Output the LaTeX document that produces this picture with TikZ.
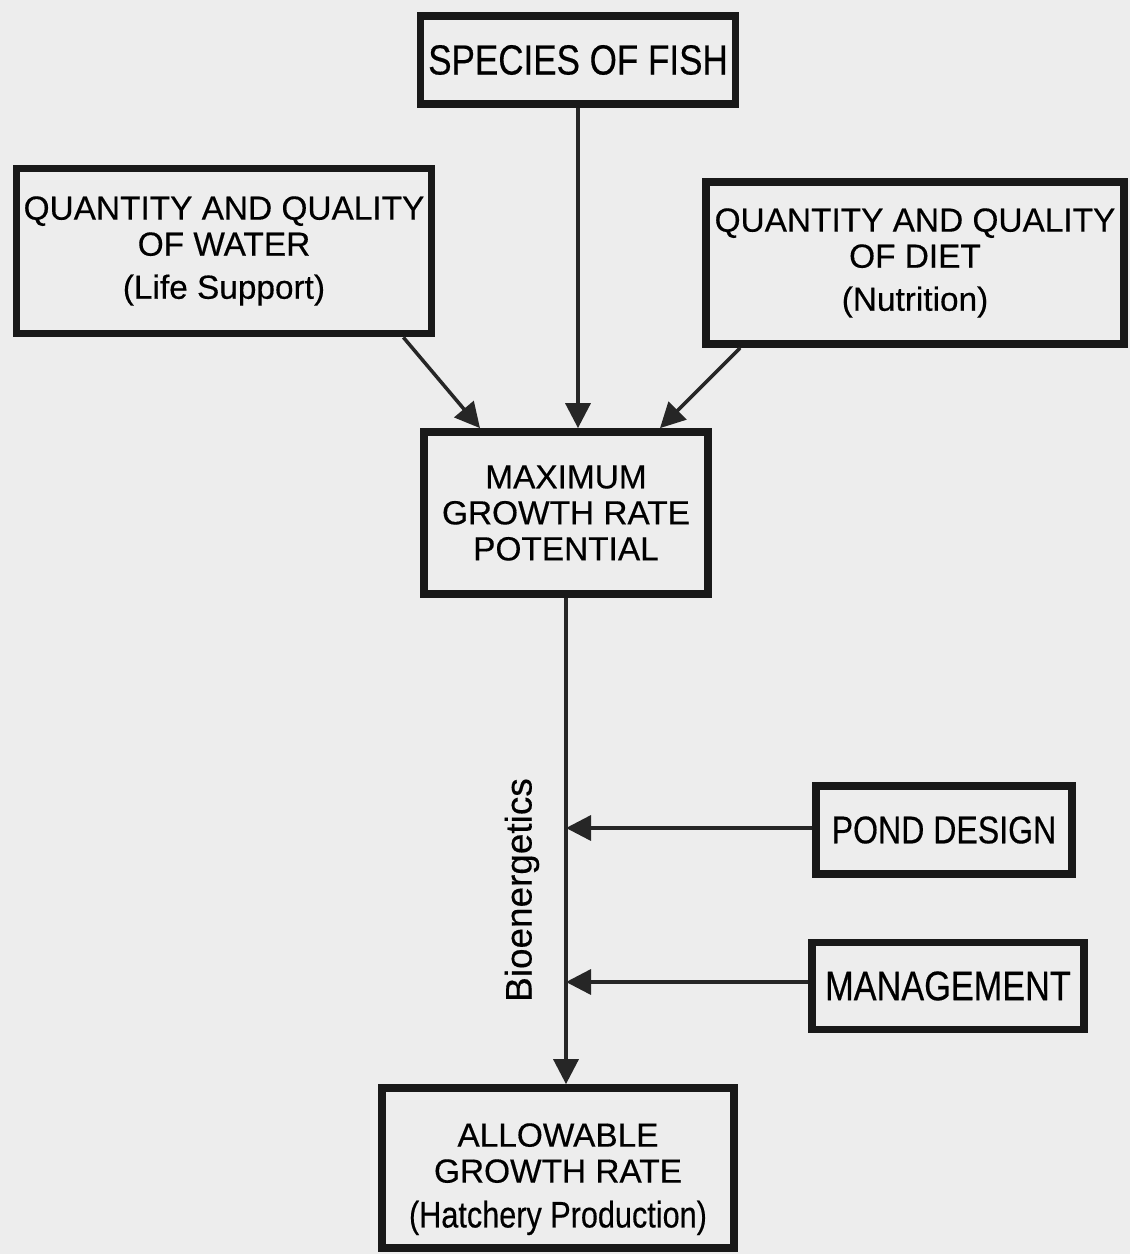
\documentclass[tikz,border=0pt]{standalone}
\usepackage{fontspec}
\setmainfont{Liberation Sans}[FakeBold=0.4]
\newfontfamily\narrowfont{Liberation Sans}[FakeStretch=0.83,FakeBold=0.4]
\usetikzlibrary{arrows.meta,positioning,calc}

\begin{document}
\begin{tikzpicture}[
  box/.style={rectangle,draw=black!90,line width=4.4pt,align=center,inner sep=2pt,
    font=\fontsize{19}{20.5}\selectfont},
  arrow/.style={-{Triangle[length=5mm,width=5mm]},line width=2pt,draw=black!85}
]

% paper
\fill[black!7] (0,0) rectangle (22.6,-25.08);
\useasboundingbox (0,0) rectangle (22.6,-25.08);

% top row
\node[box,minimum width=6.3cm,minimum height=1.76cm,font=\narrowfont\fontsize{24}{26}\selectfont]
  (fish) at (11.56,-1.2) {SPECIES OF FISH};
\node[box,minimum width=8.3cm,minimum height=3.3cm] (water) at (4.48,-5.02)
  {QUANTITY AND QUALITY\\OF WATER\\[4pt](Life Support)};
\node[box,minimum width=8.36cm,minimum height=3.24cm] (diet) at (18.3,-5.26)
  {QUANTITY AND QUALITY\\OF DIET\\[4pt](Nutrition)};

% middle
\node[box,minimum width=5.68cm,minimum height=3.24cm] (max) at (11.32,-10.26)
  {MAXIMUM\\GROWTH RATE\\POTENTIAL};

% side inputs
\node[box,minimum width=5.12cm,minimum height=1.76cm,font=\narrowfont\fontsize{22}{24}\selectfont]
  (pond) at (18.88,-16.6) {POND DESIGN};
\node[box,minimum width=5.44cm,minimum height=1.74cm,font=\narrowfont\fontsize{23.5}{25}\selectfont]
  (mgmt) at (18.96,-19.72) {MANAGEMENT};

% bottom
\node[box,minimum width=7.04cm,minimum height=3.2cm] (allow) at (11.16,-23.36)
  {\rule{0pt}{26pt}ALLOWABLE\\GROWTH RATE\\[5pt]{\narrowfont\fontsize{21}{22}\selectfont(Hatchery Production)}};

% label along the line
\node[rotate=90,font=\fontsize{21}{24}\selectfont] (bio) at (10.44,-17.8) {Bioenergetics};

% arrows into the potential
\draw[arrow] (fish.south) -- (fish.south |- max.north);
\draw[arrow] ([xshift=-0.64cm]water.south east) -- ([xshift=-1.72cm]max.north);
\draw[arrow] ([xshift=0.76cm]diet.south west) -- ([xshift=1.88cm]max.north);

% down to the allowable rate
\draw[arrow] (max.south) -- (max.south |- allow.north);
\draw[arrow] ([yshift=0.04cm]pond.west) -- ([yshift=0.04cm]pond.west -| max.south);
\draw[arrow] ([yshift=0.08cm]mgmt.west) -- ([yshift=0.08cm]mgmt.west -| max.south);

\end{tikzpicture}
\end{document}
